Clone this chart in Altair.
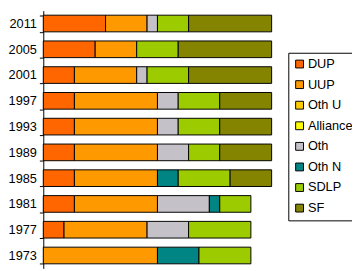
import altair as alt
import pandas as pd

years = ["2011", "2005", "2001", "1997", "1993", "1989", "1985", "1981", "1977", "1973"]
parties = ["DUP", "UUP", "Oth U", "Alliance", "Oth", "Oth N", "SDLP", "SF"]
colors = ["#FF6600", "#FF9900", "#FFCC00", "#FFFF00", "#C4C2C8", "#008484", "#9CCC00", "#848400"]

DUP      = [6, 5, 3, 3, 3, 3, 3, 3, 2, 0]
UUP      = [4, 4, 6, 8, 8, 8, 8, 8, 8, 11]
OTH_U    = [0, 0, 0, 0, 0, 0, 0, 0, 0, 0]
ALLIANCE = [0, 0, 0, 0, 0, 0, 0, 0, 0, 0]
OTH      = [1, 0, 1, 2, 2, 3, 0, 5, 4, 0]
OTH_N    = [0, 0, 0, 0, 0, 0, 2, 1, 0, 4]
SDLP     = [3, 4, 4, 4, 4, 3, 5, 3, 6, 5]
SF       = [8, 9, 8, 5, 5, 5, 4, 0, 0, 0]

series = [DUP, UUP, OTH_U, ALLIANCE, OTH, OTH_N, SDLP, SF]
rows = []
for pi, (p, vals) in enumerate(zip(parties, series)):
    for y, v in zip(years, vals):
        if v > 0:
            rows.append({"year": y, "party": p, "seats": v, "idx": pi})
df = pd.DataFrame(rows)

FONT = "Liberation Sans"

chart = alt.Chart(df).mark_bar(stroke="black", strokeWidth=1).encode(
    y=alt.Y("year:N", sort=years,
            scale=alt.Scale(paddingInner=0.354, paddingOuter=0.177),
            axis=alt.Axis(title=None, domainColor="black", tickColor="black",
                          tickSize=4, tickBand="extent", labelFontSize=13,
                          labelFont=FONT, labelColor="black", labelPadding=3,
                          domainWidth=1, tickWidth=1)),
    x=alt.X("seats:Q", stack="zero",
            scale=alt.Scale(domain=[0, 22], nice=False, zero=True),
            axis=None),
    fill=alt.Fill("party:N",
                  scale=alt.Scale(domain=parties, range=colors),
                  legend=alt.Legend(title=None, orient="none", legendX=250, legendY=43,
                                    symbolType="square", symbolSize=64,
                                    symbolStrokeColor="black", symbolStrokeWidth=1,
                                    labelFont=FONT, labelFontSize=13, labelColor="black",
                                    strokeColor="black", padding=5, rowPadding=7,
                                    symbolOffset=0, labelOffset=2)),
    order=alt.Order("idx:Q"),
).properties(
    width=233, height=263,
    padding={"left": 36, "top": 0, "right": 82, "bottom": 0},
    autosize=alt.AutoSizeParams(type="none"),
    background="white",
).configure_view(stroke=None)

chart.save("out.html", embed_options={"renderer": "svg", "actions": False})
